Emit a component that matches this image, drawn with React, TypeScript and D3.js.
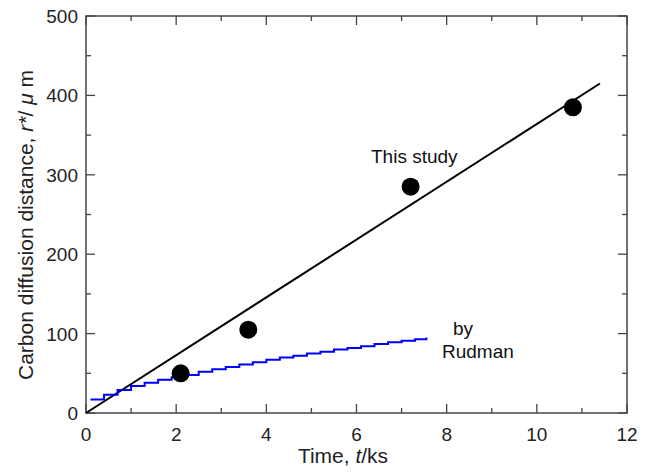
import React from "react";
import * as d3 from "d3";

const xTicks = [0, 2, 4, 6, 8, 10, 12];
const yTicks = [0, 100, 200, 300, 400, 500];
const studyT = [2.1, 3.6, 7.2, 10.8];
const studyR = [50, 105, 285, 385];
const fitT = [0, 11.4];
const fitR = [0, 415];
const rudT = [0.1, 0.4, 0.7, 1.0, 1.3, 1.6, 1.9, 2.2, 2.5, 2.8, 3.1, 3.4, 3.7, 4.0, 4.3, 4.6, 4.9, 5.2, 5.5, 5.8, 6.1, 6.4, 6.7, 7.0, 7.3, 7.55];
const rudR = [17, 23, 29, 34, 38, 42, 45, 48, 52, 55, 58, 61, 64, 67, 70, 72, 75, 77, 80, 82, 84, 87, 89, 91, 93, 95];

export default function App() {
  const W = 646, H = 475;
  const L = 86, R = 627, T = 16, B = 413;
  const x = d3.scaleLinear().domain([0, 12]).range([L, R]);
  const y = d3.scaleLinear().domain([0, 500]).range([B, T]);
  const axisColor = "#444";
  const font = "Liberation Sans, Arial, sans-serif";
  const minorX = d3.range(0, 12.01, 1);
  const minorY = d3.range(0, 500.1, 50);
  const line = d3.line<[number, number]>().x(d => x(d[0])).y(d => y(d[1]));
  const step = d3.line<[number, number]>().x(d => x(d[0])).y(d => y(d[1])).curve(d3.curveStepAfter);
  const rud: [number, number][] = rudT.map((t, i) => [t, rudR[i]]);
  const fit: [number, number][] = fitT.map((t, i) => [t, fitR[i]]);

  return (
    <svg width={W} height={H} style={{ position: "absolute", left: 0, top: 0, background: "#fff" }}>
      {minorX.map(v => {
        const major = v % 2 === 0;
        const len = major ? 9 : 5;
        return (
          <g key={"tx" + v} stroke={axisColor} strokeWidth={1.3}>
            <line x1={x(v)} x2={x(v)} y1={B} y2={B - len} />
            <line x1={x(v)} x2={x(v)} y1={T} y2={T + len} />
          </g>
        );
      })}
      {minorY.map(v => {
        const major = v % 100 === 0;
        const len = major ? 9 : 5;
        return (
          <g key={"ty" + v} stroke={axisColor} strokeWidth={1.3}>
            <line x1={L} x2={L + len} y1={y(v)} y2={y(v)} />
            <line x1={R} x2={R - len} y1={y(v)} y2={y(v)} />
          </g>
        );
      })}
      <rect x={L} y={T} width={R - L} height={B - T} fill="none" stroke={axisColor} strokeWidth={1.5} />
      {xTicks.map(v => (
        <text key={"xl" + v} x={x(v)} y={441} textAnchor="middle" fontFamily={font} fontSize={19} fill="#222">{v}</text>
      ))}
      {yTicks.map(v => (
        <text key={"yl" + v} x={78} y={y(v) + 7} textAnchor="end" fontFamily={font} fontSize={19} fill="#222">{v}</text>
      ))}
      <text x={343} y={463} textAnchor="middle" fontFamily={font} fontSize={21} fill="#222">
        Time, <tspan fontStyle="italic">t</tspan>/ks
      </text>
      <text transform={`translate(33,225) rotate(-90)`} textAnchor="middle" fontFamily={font} fontSize={21} fill="#222">
        Carbon diffusion distance, <tspan fontStyle="italic">r*</tspan>/ <tspan fontStyle="italic">μ</tspan> m
      </text>
      <path d={line(fit) || ""} fill="none" stroke="#000" strokeWidth={2} />
      <path d={step(rud) || ""} fill="none" stroke="#0000ff" strokeWidth={2} />
      {studyT.map((t, i) => (
        <circle key={"p" + i} cx={x(t)} cy={y(studyR[i])} r={9} fill="#000" />
      ))}
      <text x={371} y={163} fontFamily={font} fontSize={19} fill="#111">This study</text>
      <text x={453} y={335} fontFamily={font} fontSize={19} fill="#111">by</text>
      <text x={442} y={358} fontFamily={font} fontSize={19} fill="#111">Rudman</text>
    </svg>
  );
}
